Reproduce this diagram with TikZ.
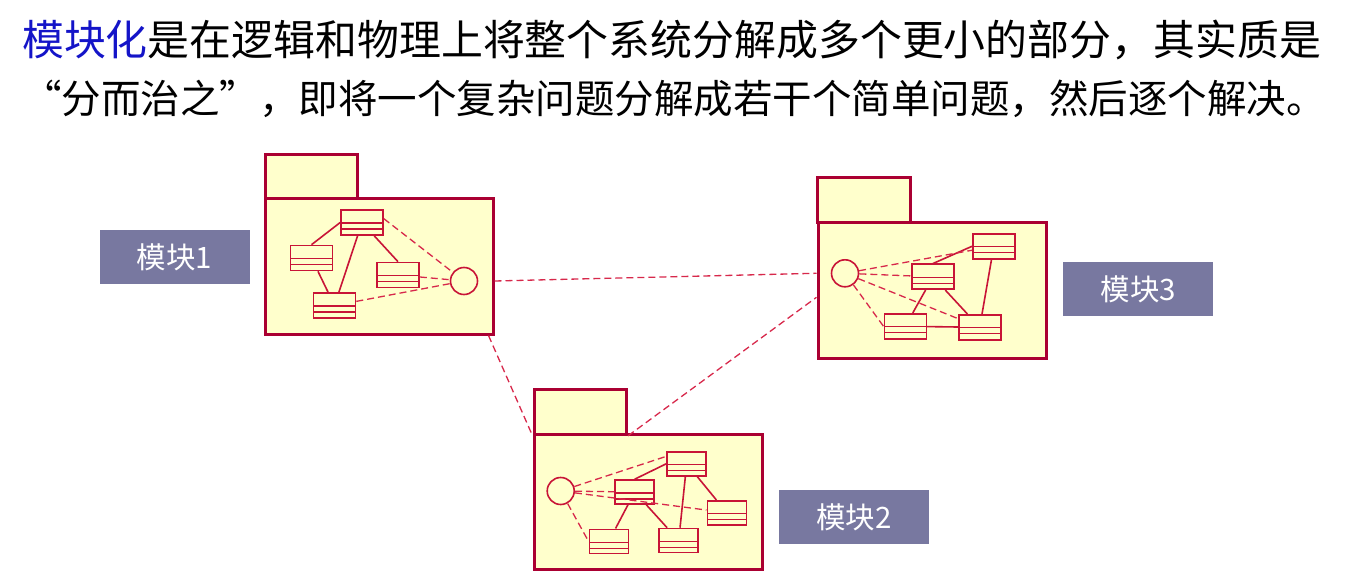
\documentclass[tikz,border=0pt]{standalone}
\usepackage{fontspec}
\setmainfont{Noto Sans CJK SC}
\definecolor{pkgred}{RGB}{170,0,50}
\definecolor{clsred}{RGB}{200,20,55}
\definecolor{lnred}{RGB}{215,40,75}
\definecolor{pkgfill}{RGB}{255,255,204}
\definecolor{labelgray}{RGB}{120,120,160}
\definecolor{titleblue}{RGB}{20,20,200}
\begin{document}
\begin{tikzpicture}[x=1pt, y=-1pt,
pkg_part/.style={draw=pkgred, fill=pkgfill, line width=3pt, inner sep=0pt}, cls_box/.style={draw=clsred, fill=pkgfill, line width=1.6pt, inner sep=0pt, minimum width=42pt, minimum height=25pt, path picture={\draw[clsred, line width=1.2pt] ([yshift=-13pt]path picture bounding box.north west) -- ([yshift=-13pt]path picture bounding box.north east); \draw[clsred, line width=1.2pt] ([yshift=-19pt]path picture bounding box.north west) -- ([yshift=-19pt]path picture bounding box.north east);}}, small_cls/.style={cls_box, minimum width=39pt, minimum height=24pt}, iface/.style={circle, draw=clsred, fill=pkgfill, line width=1.6pt, minimum size=27pt, inner sep=0pt}, link/.style={clsred, line width=1.6pt}, dep/.style={lnred, line width=1.3pt, dash pattern=on 7pt off 4pt}, mod_label/.style={fill=labelgray, text=white, font=\fontsize{29.5}{32}\selectfont, minimum width=150pt, minimum height=54pt, inner sep=0pt}]
    \useasboundingbox (0,0) rectangle (1352,585);
    % Title
    \node (line1) [anchor=west, inner sep=0pt, font=\fontsize{41.9}{44}\selectfont] at (22,40) {\textcolor{titleblue}{模块化}是在逻辑和物理上将整个系统分解成多个更小的部分，其实质是};
    \node (line2) [anchor=west, inner sep=0pt, font=\fontsize{39.5}{42}\selectfont] at (22,99) {“分而治之”，即将一个复杂问题分解成若干个简单问题，然后逐个解决。};

    % Packages
    \node (p1tab) [pkg_part, minimum width=92pt, minimum height=44pt] at (311,177) {};
    \node (p1body) [pkg_part, minimum width=228pt, minimum height=135pt] at (379,266.5) {};
    \node (p3tab) [pkg_part, minimum width=93pt, minimum height=44.5pt] at (864,200) {};
    \node (p3body) [pkg_part, minimum width=228pt, minimum height=136pt] at (932,290.3) {};
    \node (p2tab) [pkg_part, minimum width=92.5pt, minimum height=45pt] at (580.3,411.8) {};
    \node (p2body) [pkg_part, minimum width=228.3pt, minimum height=135pt] at (648.2,501.8) {};

    % Labels
    \node (lab1) [mod_label] at (174.5,257.5) {模块1};
    \node (lab3) [mod_label] at (1138.4,289.5) {模块3};
    \node (lab2) [mod_label] at (854,517) {模块2};

    % Module 1
    \node (A) [cls_box] at (362,222.5) {};
    \node (B) [cls_box] at (311.5,258) {};
    \node (C) [cls_box] at (398,275) {};
    \node (D) [cls_box] at (334.5,305.5) {};
    \node (i1) [iface] at (464,281) {};
    % Module 3
    \node (E) [cls_box] at (993.8,246.3) {};
    \node (F) [cls_box] at (933,276.8) {};
    \node (G) [cls_box] at (905.3,326.3) {};
    \node (H) [cls_box] at (979.7,327.3) {};
    \node (i3) [iface] at (845,273.3) {};
    % Module 2
    \node (J) [small_cls] at (686.7,463.7) {};
    \node (K) [small_cls] at (634.7,492) {};
    \node (L) [small_cls] at (726.8,512.7) {};
    \node (M) [small_cls] at (608.8,541.3) {};
    \node (N) [small_cls] at (678.7,540.5) {};
    \node (i2) [iface] at (560.7,491) {};

    % Links
    \draw[link] (A.west) -- (B.north);
    \draw[link] (B) -- (D);
    \draw[link] (A) -- (D);
    \draw[link] (A) -- (C.north);
    \draw[dep] (A.10) -- (i1);
    \draw[dep] (C) -- (i1);
    \draw[dep] (D) -- (i1);

    \draw[link] (F.north) -- (E.west);
    \draw[link] (G) -- (F);
    \draw[link] (F) -- (H);
    \draw[link] (E) -- (H);
    \draw[link] (G) -- (H);
    \draw[dep] (i3) -- (E);
    \draw[dep] (i3) -- (F);
    \draw[dep] (i3) -- (H);
    \draw[dep] (i3) -- (G.west);

    \draw[link] (K.north) -- (J.west);
    \draw[link] (K) -- (M);
    \draw[link] (K) -- (N);
    \draw[link] (J) -- (N);
    \draw[link] (J) -- (L);
    \draw[dep] (i2) -- (J.160);
    \draw[dep] (i2) -- (K);
    \draw[dep] (i2) -- (L);
    \draw[dep] (i2) -- (M.west);

    % Between modules
    \draw[dep] (i1 -| p1body.east) -- (i3 -| p3body.west);
    \draw[dep] ([xshift=-6pt]p1body.south east) -- (p2tab.south west);
    \draw[dep] (p2tab.south east) -- ([yshift=-7pt]p3body.west);
\end{tikzpicture}
\end{document}
